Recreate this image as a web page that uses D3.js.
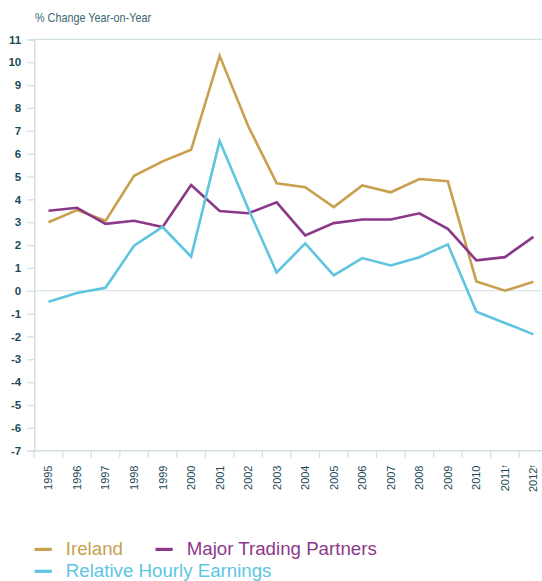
<!DOCTYPE html>
<html><head><meta charset="utf-8">
<script src="https://cdn.jsdelivr.net/npm/d3@7"></script>
<style>
html,body{margin:0;padding:0;background:#fff;}
svg{display:block;}
</style></head>
<body>
<svg id="chart" width="542" height="581"></svg>
<script>
const years = ["1995","1996","1997","1998","1999","2000","2001","2002","2003","2004","2005","2006","2007","2008","2009","2010","2011","2012"];
const yearSuffix = ["","","","","","","","","","","","","","","","","f","f"];
const ireland = [3.0, 3.53, 3.06, 5.03, 5.66, 6.17, 10.28, 7.21, 4.7, 4.53, 3.66, 4.61, 4.31, 4.89, 4.79, 0.41, 0.0, 0.39];
const partners = [3.5, 3.63, 2.93, 3.06, 2.79, 4.63, 3.49, 3.39, 3.87, 2.42, 2.96, 3.12, 3.12, 3.39, 2.71, 1.33, 1.47, 2.36];
const earnings = [-0.48, -0.1, 0.13, 1.97, 2.79, 1.49, 6.55, 3.6, 0.8, 2.07, 0.67, 1.43, 1.11, 1.47, 2.03, -0.92, -1.41, -1.91];
const yTicks = [11,10,9,8,7,6,5,4,3,2,1,0,-1,-2,-3,-4,-5,-6,-7];
const seriesNames = ["Ireland","Major Trading Partners","Relative Hourly Earnings"];
const seriesColors = ["#c9a04e","#8c3889","#5ec5df"];
const titleText = "% Change Year-on-Year";

const svg = d3.select("#chart");
const axisColor = "#d2dfe3";
const labelColor = "#1d4a58";
const pLeft = 34.2, pRight = 547.7, pTop = 39.4, pBottom = 450.7;

const x = d3.scaleBand().domain(years).range([pLeft, pRight]).paddingInner(0).paddingOuter(0);
const y = d3.scaleLinear().domain([-7, 11]).range([pBottom, pTop]);
const cx = d => x(d) + x.bandwidth() / 2;

// title
svg.append("text").attr("x", 35).attr("y", 21.5)
  .attr("font-family", "'Liberation Sans', Arial, sans-serif")
  .attr("font-size", 13).attr("fill", "#3b6571")
  .attr("textLength", 116).attr("lengthAdjust", "spacingAndGlyphs")
  .text(titleText);

// horizontal reference lines at top and zero
[11, 0].forEach(v => {
  svg.append("line").attr("x1", pLeft).attr("x2", 542).attr("y1", y(v)).attr("y2", y(v))
    .attr("stroke", axisColor).attr("stroke-width", 1.2);
});

// y axis
const yAxis = d3.axisLeft(y).tickValues(yTicks).tickFormat(d => String(d)).tickSize(7).tickPadding(6);
const gy = svg.append("g").attr("transform", `translate(${pLeft},0)`).call(yAxis);
gy.select(".domain").attr("stroke", axisColor).attr("stroke-width", 1.5);
gy.selectAll(".tick line").attr("stroke", axisColor).attr("stroke-width", 1.2);
gy.selectAll(".tick text").attr("fill", labelColor).attr("font-size", 11.5).attr("font-weight", "bold")
  .attr("font-family", "'Liberation Sans', Arial, sans-serif");

// x axis: line and ticks at band edges
svg.append("line").attr("x1", pLeft).attr("x2", 542).attr("y1", pBottom).attr("y2", pBottom)
  .attr("stroke", axisColor).attr("stroke-width", 1.5);
svg.append("g").selectAll("line").data(years).join("line")
  .attr("x1", d => x(d)).attr("x2", d => x(d))
  .attr("y1", pBottom).attr("y2", pBottom + 7)
  .attr("stroke", axisColor).attr("stroke-width", 1.2);

const xl = svg.append("g").selectAll("text").data(years).join("text")
  .attr("transform", d => `translate(${cx(d)},465.5) rotate(-90)`)
  .attr("text-anchor", "end").attr("dy", "0.36em")
  .attr("font-family", "'Liberation Sans', Arial, sans-serif")
  .attr("font-size", 11).attr("fill", labelColor);
xl.append("tspan").text(d => d);
xl.filter((d, i) => yearSuffix[i]).append("tspan")
  .attr("font-size", 7.5).attr("dy", "-0.3em").text((d) => yearSuffix[years.indexOf(d)]);

// lines
const allSeries = [ireland, partners, earnings];
const line = d3.line().x((d, i) => cx(years[i])).y(d => y(d));
allSeries.forEach((s, k) => {
  svg.append("path").datum(s).attr("d", line)
    .attr("fill", "none").attr("stroke", seriesColors[k]).attr("stroke-width", 2.6)
    .attr("stroke-linejoin", "miter").attr("stroke-linecap", "butt");
});

// legend
const legendPos = [[34.6, 554.6], [155.5, 554.6], [34.6, 576.5]];
seriesNames.forEach((name, k) => {
  const [lx, ly] = legendPos[k];
  svg.append("line").attr("x1", lx).attr("x2", lx + 17.2).attr("y1", ly - 5.2).attr("y2", ly - 5.2)
    .attr("stroke", seriesColors[k]).attr("stroke-width", 3.2);
  svg.append("text").attr("x", lx + 31.2).attr("y", ly)
    .attr("font-family", "'Liberation Sans', Arial, sans-serif")
    .attr("font-size", 18.7).attr("fill", seriesColors[k]).text(name);
});
</script>
</body></html>
